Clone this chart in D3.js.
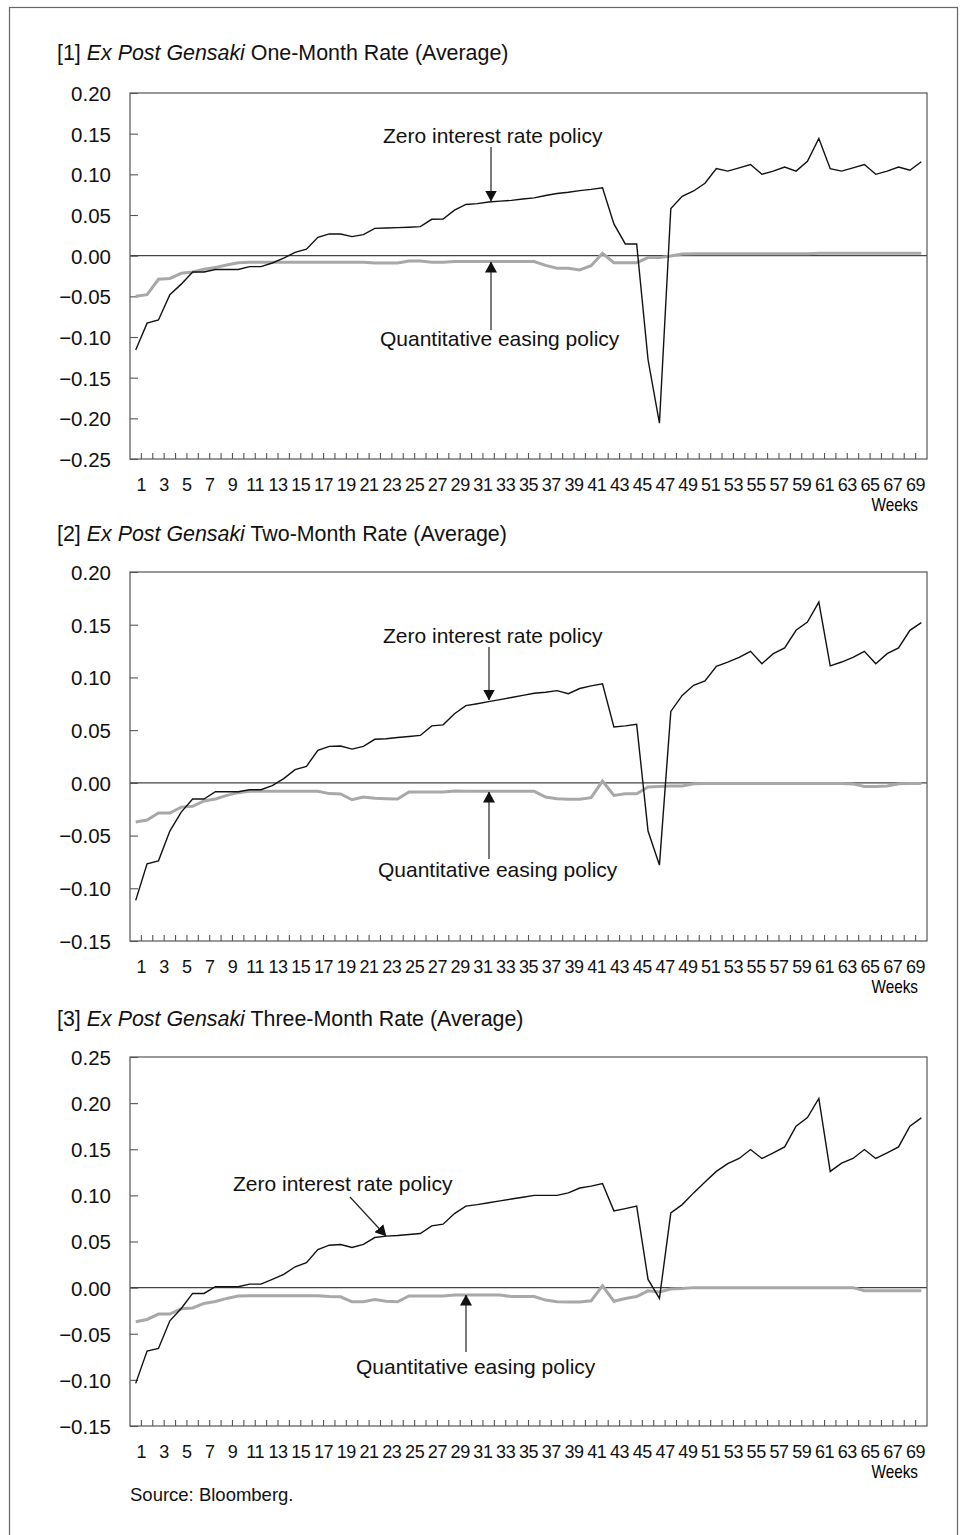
<!DOCTYPE html>
<html lang="en">
<head>
<meta charset="utf-8">
<title>Ex Post Gensaki Rates</title>
<style>
body { margin: 0; background: #fff; }
svg { display: block; font-family: "Liberation Sans", Arial, Helvetica, sans-serif; }
.frame { fill: none; stroke: #666; stroke-width: 1.2; }
.plot-box { fill: none; stroke: #555; stroke-width: 1.2; }
.zero { stroke: #444; stroke-width: 1.2; }
.zirp { fill: none; stroke: #111; stroke-width: 1.4; }
.qe { fill: none; stroke: #a8a8a8; stroke-width: 3; }
.axis path { display: none; }
.axis line { stroke: #555; stroke-width: 1.1; }
.y-axis text { font-size: 20.5px; fill: #111; }
.x-axis text { font-size: 18px; fill: #111; }
.note { font-size: 21px; fill: #111; }
.title { font-size: 21.4px; fill: #111; }
.arrow { stroke: #222; stroke-width: 1.2; }
</style>
</head>
<body>
<div id="chart"></div>
<script src="https://cdn.jsdelivr.net/npm/d3@7"></script>
<script>
(function(d3) {
  'use strict';

  // categories: weeks 1..70, labels on odd weeks
  var weeks = d3.range(1, 71);
  var weekLabels = [1, 3, 5, 7, 9, 11, 13, 15, 17, 19, 21, 23, 25, 27, 29, 31, 33, 35,
    37, 39, 41, 43, 45, 47, 49, 51, 53, 55, 57, 59, 61, 63, 65, 67, 69];

  // [1] one-month rate
  var oneMonthZirp = [-0.116, -0.083, -0.079, -0.048, -0.035, -0.020, -0.020, -0.017, -0.017, -0.017,
    -0.0135, -0.0135, -0.009, -0.003, 0.004, 0.008, 0.0226, 0.0267, 0.0267, 0.0234,
    0.0258, 0.0336, 0.034, 0.0345, 0.035, 0.0357, 0.0447, 0.045, 0.056, 0.063,
    0.064, 0.066, 0.067, 0.068, 0.0697, 0.071, 0.074, 0.0765, 0.078, 0.080,
    0.0815, 0.0835, 0.039, 0.0144, 0.0144, -0.128, -0.206, 0.058, 0.073, 0.0795,
    0.089, 0.107, 0.104, 0.108, 0.112, 0.100, 0.104, 0.109, 0.104, 0.116,
    0.144, 0.107, 0.104, 0.108, 0.112, 0.100, 0.104, 0.109, 0.105, 0.1155];
  var oneMonthQe = [-0.050, -0.048, -0.029, -0.028, -0.0217, -0.020, -0.0167, -0.0145, -0.0115, -0.0086,
    -0.008, -0.008, -0.008, -0.008, -0.008, -0.008, -0.008, -0.008, -0.008, -0.008,
    -0.008, -0.009, -0.009, -0.009, -0.0065, -0.0065, -0.008, -0.008, -0.0072, -0.0072,
    -0.0072, -0.0072, -0.0072, -0.0072, -0.0072, -0.0072, -0.012, -0.0155, -0.0155, -0.0176,
    -0.0123, 0.003, -0.0086, -0.0086, -0.0086, -0.0024, -0.0024, -0.0004, 0.002, 0.0025,
    0.0025, 0.0025, 0.0025, 0.0025, 0.0025, 0.0025, 0.0025, 0.0025, 0.0025, 0.0025,
    0.003, 0.003, 0.003, 0.003, 0.003, 0.003, 0.003, 0.003, 0.003, 0.003];

  // [2] two-month rate
  var twoMonthZirp = [-0.1115, -0.0767, -0.074, -0.0457, -0.0277, -0.0153, -0.0153, -0.0084, -0.0084, -0.0084,
    -0.0065, -0.0065, -0.0027, 0.004, 0.0125, 0.0157, 0.0308, 0.0346, 0.035, 0.032,
    0.0346, 0.0413, 0.0418, 0.043, 0.044, 0.045, 0.054, 0.055, 0.0656, 0.0732,
    0.075, 0.077, 0.079, 0.081, 0.083, 0.085, 0.086, 0.0875, 0.0846, 0.0895,
    0.092, 0.094, 0.053, 0.054, 0.0555, -0.0457, -0.078, 0.0678, 0.083, 0.0925,
    0.0966, 0.1105, 0.1146, 0.119, 0.1248, 0.113, 0.1226, 0.128, 0.1447, 0.1526,
    0.1715, 0.111, 0.1146, 0.119, 0.1248, 0.113, 0.1226, 0.128, 0.1447, 0.152];
  var twoMonthQe = [-0.0372, -0.0353, -0.0286, -0.0286, -0.023, -0.0223, -0.0172, -0.0153, -0.0119, -0.0093,
    -0.008, -0.008, -0.008, -0.008, -0.008, -0.008, -0.008, -0.0102, -0.0106, -0.016,
    -0.0135, -0.0147, -0.015, -0.0153, -0.0087, -0.0087, -0.0087, -0.0087, -0.0078, -0.008,
    -0.008, -0.008, -0.008, -0.008, -0.008, -0.008, -0.0135, -0.015, -0.0155, -0.0155,
    -0.014, 0.0017, -0.0119, -0.0104, -0.0104, -0.004, -0.0035, -0.003, -0.003, -0.0008,
    -0.0005, -0.0005, -0.0005, -0.0005, -0.0005, -0.0005, -0.0005, -0.0005, -0.0005, -0.0005,
    -0.0005, -0.0005, -0.0005, -0.001, -0.0035, -0.0035, -0.003, -0.0008, -0.0005, -0.0005];

  // [3] three-month rate
  var threeMonthZirp = [-0.1038, -0.0688, -0.066, -0.036, -0.0226, -0.0063, -0.0063, 0.001, 0.001, 0.001,
    0.0038, 0.0038, 0.0089, 0.0143, 0.0226, 0.027, 0.0413, 0.046, 0.0468, 0.0435,
    0.0468, 0.0543, 0.0558, 0.0565, 0.0576, 0.0587, 0.067, 0.0688, 0.0803, 0.0883,
    0.090, 0.092, 0.094, 0.096, 0.098, 0.100, 0.100, 0.100, 0.1027, 0.108,
    0.110, 0.1128, 0.0832, 0.0857, 0.0883, 0.0089, -0.0117, 0.081, 0.090, 0.1027,
    0.1146, 0.126, 0.1345, 0.140, 0.1497, 0.140, 0.146, 0.1525, 0.175, 0.1843,
    0.205, 0.126, 0.135, 0.140, 0.1497, 0.140, 0.146, 0.1525, 0.175, 0.184];
  var threeMonthQe = [-0.037, -0.0345, -0.0287, -0.0287, -0.023, -0.022, -0.0171, -0.015, -0.0117, -0.0092,
    -0.0087, -0.0087, -0.0087, -0.0087, -0.0087, -0.0087, -0.0087, -0.0097, -0.010, -0.0154,
    -0.0154, -0.013, -0.0147, -0.0154, -0.009, -0.009, -0.009, -0.009, -0.008, -0.008,
    -0.008, -0.008, -0.008, -0.0097, -0.0097, -0.0097, -0.0135, -0.0154, -0.0157, -0.0157,
    -0.0143, 0.002, -0.0147, -0.0117, -0.0097, -0.0035, -0.0046, -0.0016, -0.001, 0,
    0, 0, 0, 0, 0, 0, 0, 0, 0, 0,
    0, 0, 0, 0, -0.0033, -0.0033, -0.0033, -0.0033, -0.0033, -0.0033];

  var ticksOne = [-0.25, -0.20, -0.15, -0.10, -0.05, 0, 0.05, 0.10, 0.15, 0.20];
  var ticksTwo = [-0.15, -0.10, -0.05, 0, 0.05, 0.10, 0.15, 0.20];
  var ticksThree = [-0.15, -0.10, -0.05, 0, 0.05, 0.10, 0.15, 0.20, 0.25];

  var width = 965;
  var height = 1535;
  var left = 130, right = 927;

  var panels = [
    { num: '[1] ', term: ' One-Month Rate (Average)', zirp: oneMonthZirp, qe: oneMonthQe,
      ticks: ticksOne, top: 93, bottom: 459, titleY: 60,
      zText: [383, 143], zArrow: [[491, 147], [491, 201]],
      qText: [380, 346], qArrow: [[491, 330], [491, 262]] },
    { num: '[2] ', term: ' Two-Month Rate (Average)', zirp: twoMonthZirp, qe: twoMonthQe,
      ticks: ticksTwo, top: 572, bottom: 941, titleY: 541,
      zText: [383, 643], zArrow: [[489, 647], [489, 700]],
      qText: [378, 877], qArrow: [[489, 859], [489, 792]] },
    { num: '[3] ', term: ' Three-Month Rate (Average)', zirp: threeMonthZirp, qe: threeMonthQe,
      ticks: ticksThree, top: 1057, bottom: 1426, titleY: 1026,
      zText: [233, 1191], zArrow: [[350, 1197], [386, 1236]],
      qText: [356, 1374], qArrow: [[466, 1352], [466, 1295]] }
  ];

  var svg = d3.select('#chart')
    .append('svg')
    .attr('width', width)
    .attr('height', height);

  svg.append('defs').append('marker')
    .attr('id', 'head')
    .attr('markerUnits', 'userSpaceOnUse')
    .attr('viewBox', '0 0 11 12')
    .attr('markerWidth', 11)
    .attr('markerHeight', 12)
    .attr('refX', 10.5)
    .attr('refY', 6)
    .attr('orient', 'auto')
    .append('path')
    .attr('d', 'M0,0 L11,6 L0,12 Z')
    .attr('fill', '#111');

  svg.append('rect')
    .attr('class', 'frame')
    .attr('x', 9.5)
    .attr('y', 7.5)
    .attr('width', 948)
    .attr('height', 1600);

  var x = d3.scaleBand()
    .domain(weeks)
    .range([left, right])
    .padding(0);

  var fmt = d3.format('.2f');

  panels.forEach(function(p) {
    var y = d3.scaleLinear()
      .domain([p.ticks[0], p.ticks[p.ticks.length - 1]])
      .range([p.bottom, p.top]);

    var g = svg.append('g');

    // title
    var title = g.append('text')
      .attr('class', 'title')
      .attr('x', 57)
      .attr('y', p.titleY);
    title.append('tspan').text(p.num);
    title.append('tspan').style('font-style', 'italic').text('Ex Post Gensaki');
    title.append('tspan').text(p.term);

    // y axis, ticks inside the box
    g.append('g')
      .attr('class', 'axis y-axis')
      .attr('transform', 'translate(' + left + ',0)')
      .call(d3.axisLeft(y).tickValues(p.ticks).tickSize(-8).tickPadding(19).tickFormat(fmt))
      .selectAll('text')
      .attr('dy', '0.36em');

    // x tick marks between weeks
    g.append('g')
      .attr('class', 'axis')
      .selectAll('line')
      .data(weeks.slice(1))
      .enter()
      .append('line')
      .attr('x1', function(d) { return x(d); })
      .attr('x2', function(d) { return x(d); })
      .attr('y1', p.bottom)
      .attr('y2', p.bottom - 6);

    // x labels on odd weeks
    var xa = g.append('g')
      .attr('class', 'axis x-axis')
      .attr('transform', 'translate(' + (x.bandwidth() / 2) + ',' + p.bottom + ')')
      .call(d3.axisBottom(x).tickValues(weekLabels).tickSize(0).tickPadding(0));
    xa.selectAll('.tick line').remove();
    xa.selectAll('text')
      .attr('y', 32)
      .attr('dy', null)
      .style('letter-spacing', '-0.4px');

    g.append('text')
      .attr('class', 'x-axis')
      .attr('text-anchor', 'end')
      .attr('transform', 'translate(918,' + (p.bottom + 52) + ') scale(0.85,1)')
      .style('font-size', '18px')
      .text('Weeks');

    // zero line
    g.append('line')
      .attr('class', 'zero')
      .attr('x1', left)
      .attr('x2', right)
      .attr('y1', y(0))
      .attr('y2', y(0));

    var line = d3.line()
      .x(function(d, i) { return x(weeks[i]) + x.bandwidth() / 2; })
      .y(function(d) { return y(d); });

    g.append('path')
      .attr('class', 'qe')
      .attr('d', line(p.qe));

    g.append('path')
      .attr('class', 'zirp')
      .attr('d', line(p.zirp));

    g.append('rect')
      .attr('class', 'plot-box')
      .attr('x', left)
      .attr('y', p.top)
      .attr('width', right - left)
      .attr('height', p.bottom - p.top);

    // annotations
    g.append('text')
      .attr('class', 'note')
      .attr('x', p.zText[0])
      .attr('y', p.zText[1])
      .text('Zero interest rate policy');
    g.append('line')
      .attr('class', 'arrow')
      .attr('x1', p.zArrow[0][0]).attr('y1', p.zArrow[0][1])
      .attr('x2', p.zArrow[1][0]).attr('y2', p.zArrow[1][1])
      .attr('marker-end', 'url(#head)');

    g.append('text')
      .attr('class', 'note')
      .attr('x', p.qText[0])
      .attr('y', p.qText[1])
      .text('Quantitative easing policy');
    g.append('line')
      .attr('class', 'arrow')
      .attr('x1', p.qArrow[0][0]).attr('y1', p.qArrow[0][1])
      .attr('x2', p.qArrow[1][0]).attr('y2', p.qArrow[1][1])
      .attr('marker-end', 'url(#head)');
  });

  svg.append('text')
    .attr('x', 130)
    .attr('y', 1501)
    .style('font-size', '18.5px')
    .attr('fill', '#111')
    .text('Source: Bloomberg.');

})(window.d3);
</script>
</body>
</html>
